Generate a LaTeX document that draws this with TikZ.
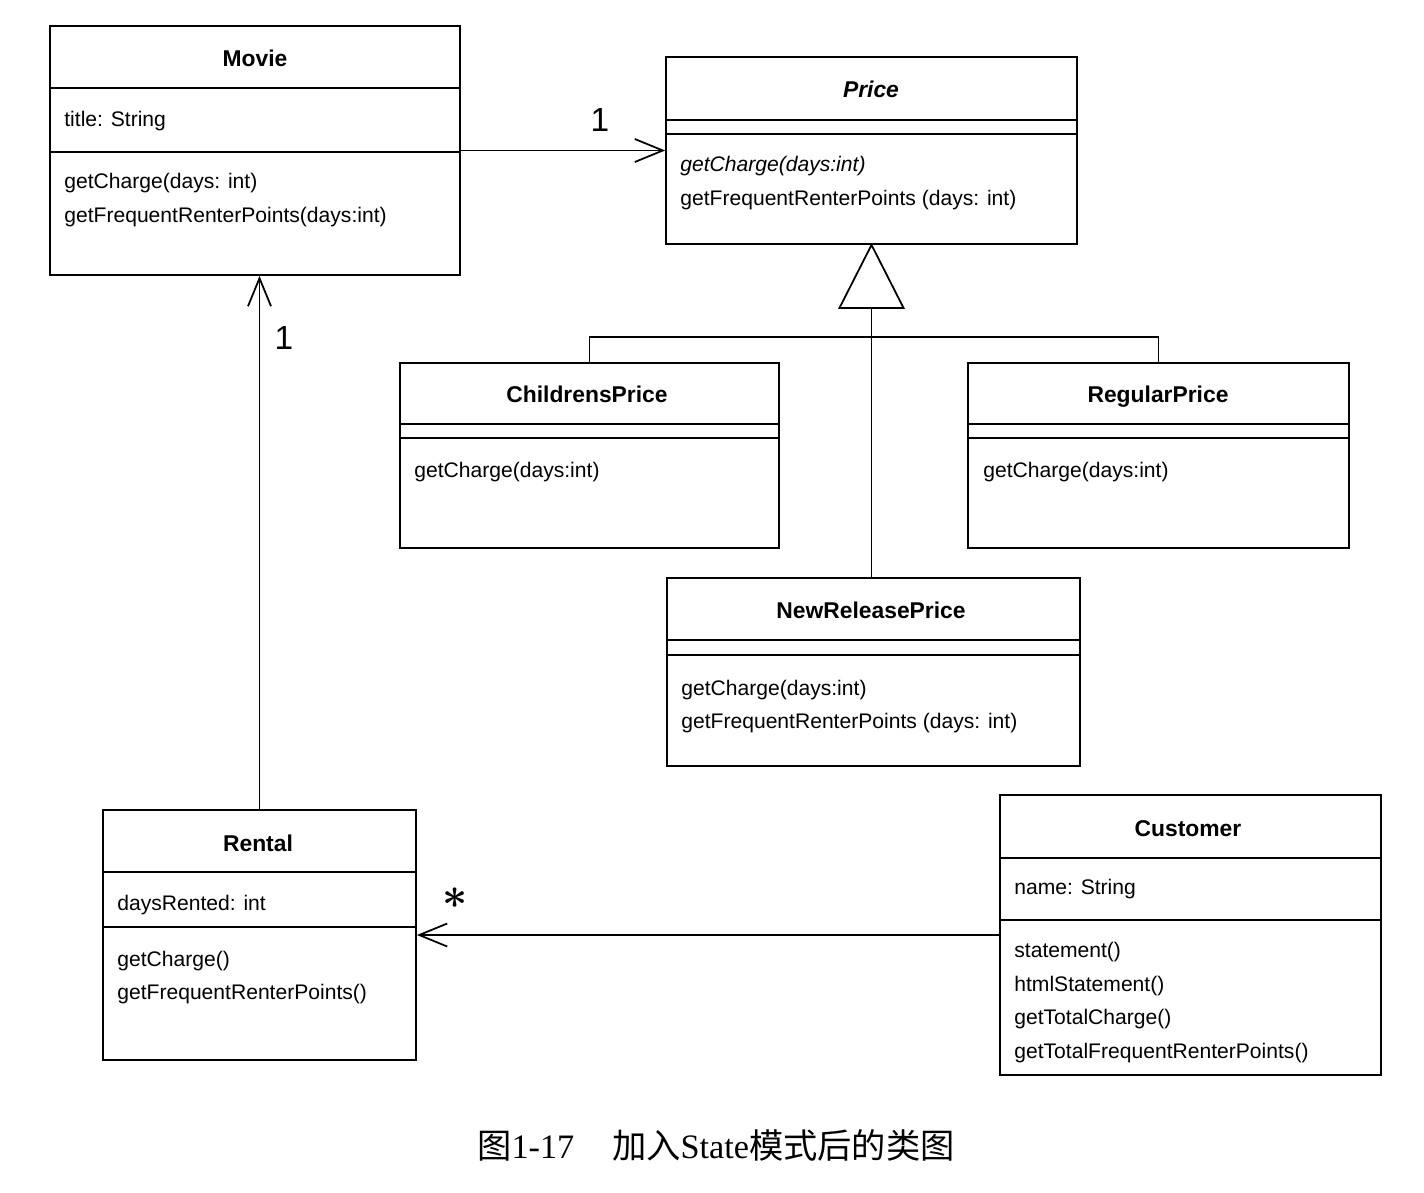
\documentclass[tikz,border=0pt]{standalone}
\usepackage{fontspec}
\setmainfont{Liberation Sans}
\newfontfamily\cjkfont{Noto Sans CJK SC}
\newfontfamily\capfont{Liberation Serif}
\usetikzlibrary{arrows.meta, positioning}

\tikzset{
  cls/.style 2 args={draw, line width=1pt, minimum width=#1*0.2mm, minimum height=#2*0.2mm, inner sep=0pt},
  clstitle/.style={inner sep=0pt, text height=0.75em, text depth=0.1em, yshift=-0.6mm, font=\fontsize{13}{15}\selectfont\bfseries},
  members/.style={anchor=west, align=left, inner sep=0pt, yshift=-0.5mm, font=\fontsize{12}{19.3}\selectfont},
  sepline/.style={line width=1pt},
  assoc/.style={line width=1pt, -{Straight Barb[length=5.6mm, width=4.6mm, line width=1pt]}},
  mult/.style={inner sep=0pt, font=\fontsize{19}{19}\selectfont},
}

\begin{document}
\begin{tikzpicture}[x=0.2mm, y=-0.2mm]
    \useasboundingbox (0,0) rectangle (1424,1192);

    % Movie
    \node[cls={410}{249}] (movie) at (255,150.5) {};
    \draw[sepline] (movie.west |- 0,88) -- (movie.east |- 0,88);
    \draw[sepline] (movie.west |- 0,152) -- (movie.east |- 0,152);
    \node[clstitle] (movietitle) at (255,58) {Movie};
    \node[members] (movieattr) at (64,119) {title: String};
    \node[members] (movieops) at (64,198) {getCharge(days: int)\\getFrequentRenterPoints(days:int)};

    % Price
    \node[cls={411}{187}] (price) at (871.5,150.5) {};
    \draw[sepline] (price.west |- 0,120) -- (price.east |- 0,120);
    \draw[sepline] (price.west |- 0,134) -- (price.east |- 0,134);
    \node[clstitle, font=\fontsize{13}{15}\selectfont\bfseries\itshape] (pricetitle) at (871,89) {Price};
    \node[members] (priceops) at (680,181) {\textit{getCharge(days:int)}\\getFrequentRenterPoints (days: int)};

    % ChildrensPrice
    \node[cls={379}{185}] (children) at (589.5,455.5) {};
    \draw[sepline] (children.west |- 0,424) -- (children.east |- 0,424);
    \draw[sepline] (children.west |- 0,438) -- (children.east |- 0,438);
    \node[clstitle] (childrentitle) at (587,394) {ChildrensPrice};
    \node[members] (childrenops) at (414,470) {getCharge(days:int)};

    % RegularPrice
    \node[cls={381}{185}] (regular) at (1158.5,455.5) {};
    \draw[sepline] (regular.west |- 0,424) -- (regular.east |- 0,424);
    \draw[sepline] (regular.west |- 0,438) -- (regular.east |- 0,438);
    \node[clstitle] (regulartitle) at (1158,394) {RegularPrice};
    \node[members] (regularops) at (983,470) {getCharge(days:int)};

    % NewReleasePrice
    \node[cls={413}{188}] (newrel) at (873.5,672) {};
    \draw[sepline] (newrel.west |- 0,640) -- (newrel.east |- 0,640);
    \draw[sepline] (newrel.west |- 0,655) -- (newrel.east |- 0,655);
    \node[clstitle] (newreltitle) at (871,610) {NewReleasePrice};
    \node[members] (newrelops) at (681,704) {getCharge(days:int)\\getFrequentRenterPoints (days: int)};

    % Rental
    \node[cls={313}{250}] (rental) at (259.5,935) {};
    \draw[sepline] (rental.west |- 0,872) -- (rental.east |- 0,872);
    \draw[sepline] (rental.west |- 0,927) -- (rental.east |- 0,927);
    \node[clstitle] (rentaltitle) at (258,843) {Rental};
    \node[members] (rentalattr) at (117,903) {daysRented: int};
    \node[members] (rentalops) at (117,975) {getCharge()\\getFrequentRenterPoints()};

    % Customer
    \node[cls={381}{280}] (customer) at (1190.5,935) {};
    \draw[sepline] (customer.west |- 0,858) -- (customer.east |- 0,858);
    \draw[sepline] (customer.west |- 0,920) -- (customer.east |- 0,920);
    \node[clstitle] (customertitle) at (1188,828) {Customer};
    \node[members] (customerattr) at (1014,887) {name: String};
    \node[members] (customerops) at (1014,1000) {statement()\\htmlStatement()\\getTotalCharge()\\getTotalFrequentRenterPoints()};

    % Generalization
    \draw[line width=1pt] (price.south) -- ++(-32,63) -- ++(64,0) -- cycle;
    \path (price.south) ++(0,63) coordinate (tribase);
    \coordinate (bar) at (0,337);
    \draw[line width=1pt] (tribase) -- (tribase |- newrel.north);
    \draw[line width=1pt] (children.north) -- (children.north |- bar) -- (regular.north |- bar) -- (regular.north);

    % Associations
    \draw[assoc] (movie.east) -- (price.west);
    \draw[assoc] (rental.north) -- (rental.north |- movie.south);
    \draw[assoc] (customer.west) -- (rental.east);
    \node[mult] (multprice) at (600,120) {1};
    \node[mult] (multmovie) at (284,338) {1};
    \node[mult, font=\fontsize{40}{40}\selectfont\boldmath] (multrental) at (455,898) {$\ast$};

    % Caption
    \node[inner sep=0pt, font=\fontsize{19.5}{21}\selectfont] (caption) at (716,1145)
        {{\cjkfont 图}{\capfont 1-17}\hspace{1.1em}{\cjkfont 加入}{\capfont State}{\cjkfont 模式后的类图}};
\end{tikzpicture}
\end{document}
